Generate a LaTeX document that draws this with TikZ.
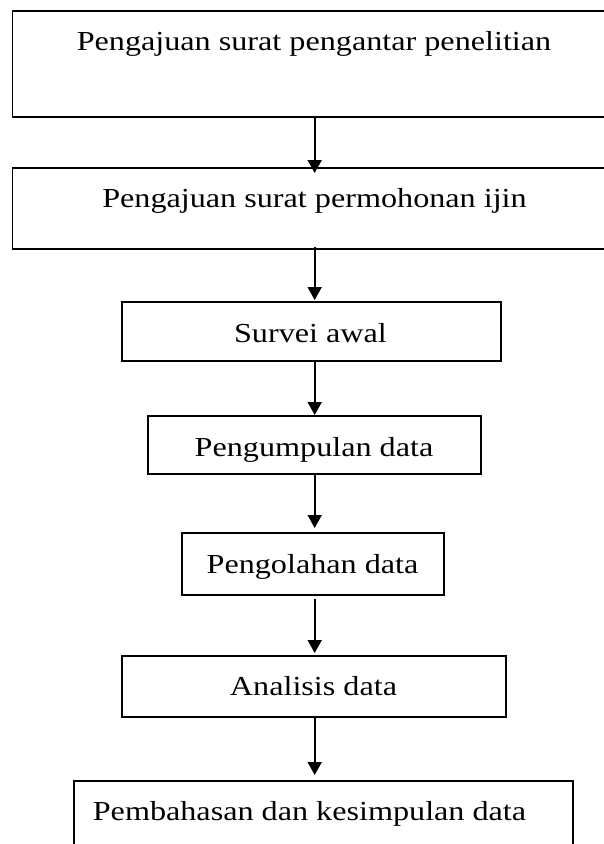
\documentclass[tikz,border=0pt]{standalone}
\usepackage{fontspec}
\setmainfont{Liberation Serif}
\usetikzlibrary{arrows.meta}
\newcommand{\wtxt}[1]{\scalebox{1.17}[1]{#1}}
\begin{document}
\begin{tikzpicture}[x=1pt,y=-1pt,
  box/.style={draw, line width=1.6pt, inner sep=0pt, outer sep=0pt},
  txt/.style={anchor=base, inner sep=0pt, font=\fontsize{27.5}{32}\selectfont},
  arr/.style={line width=1.6pt, -{Triangle[length=13pt,width=14pt]}}]
\useasboundingbox (0,0) rectangle (604,844);
\clip (0,0) rectangle (604,844);
\node[box, minimum width=607.7pt, minimum height=106pt] (b1) at (316.15,64) {};
\node[box, minimum width=607.7pt, minimum height=81pt] (b2) at (316.15,208.5) {};
\node[box, minimum width=379.1pt, minimum height=59pt] (b3) at (311.25,331.5) {};
\node[box, minimum width=333pt, minimum height=58pt] (b4) at (314.5,445) {};
\node[box, minimum width=262pt, minimum height=62pt] (b5) at (313,564) {};
\node[box, minimum width=384pt, minimum height=61pt] (b6) at (314,686.5) {};
\node[box, minimum width=499pt, minimum height=119pt] (b7) at (323.5,840.5) {};
\node[txt] (t1) at (314,50) {\wtxt{Pengajuan surat pengantar penelitian}};
\node[txt] (t2) at (314.5,207) {\wtxt{Pengajuan surat permohonan ijin}};
\node[txt] (t3) at (310.5,342) {\wtxt{Survei awal}};
\node[txt] (t4) at (314,456) {\wtxt{Pengumpulan data}};
\node[txt] (t5) at (312.5,573) {\wtxt{Pengolahan data}};
\node[txt] (t6) at (313.5,695) {\wtxt{Analisis data}};
\node[txt] (t7) at (309.5,820) {\wtxt{Pembahasan dan kesimpulan data}};
\coordinate (ax) at (314.7,0);
\draw[arr, shorten >=-5pt] (b1.south -| ax) -- (b2.north -| ax);
\draw[arr, shorten <=-2pt, shorten >=2pt] (b2.south -| ax) -- (b3.north -| ax);
\draw[arr, shorten >=1pt] (b3.south -| ax) -- (b4.north -| ax);
\draw[arr, shorten >=5pt] (b4.south -| ax) -- (b5.north -| ax);
\draw[arr, shorten <=4pt, shorten >=3pt] (b5.south -| ax) -- (b6.north -| ax);
\draw[arr, shorten >=6pt] (b6.south -| ax) -- (b7.north -| ax);
\end{tikzpicture}
\end{document}
